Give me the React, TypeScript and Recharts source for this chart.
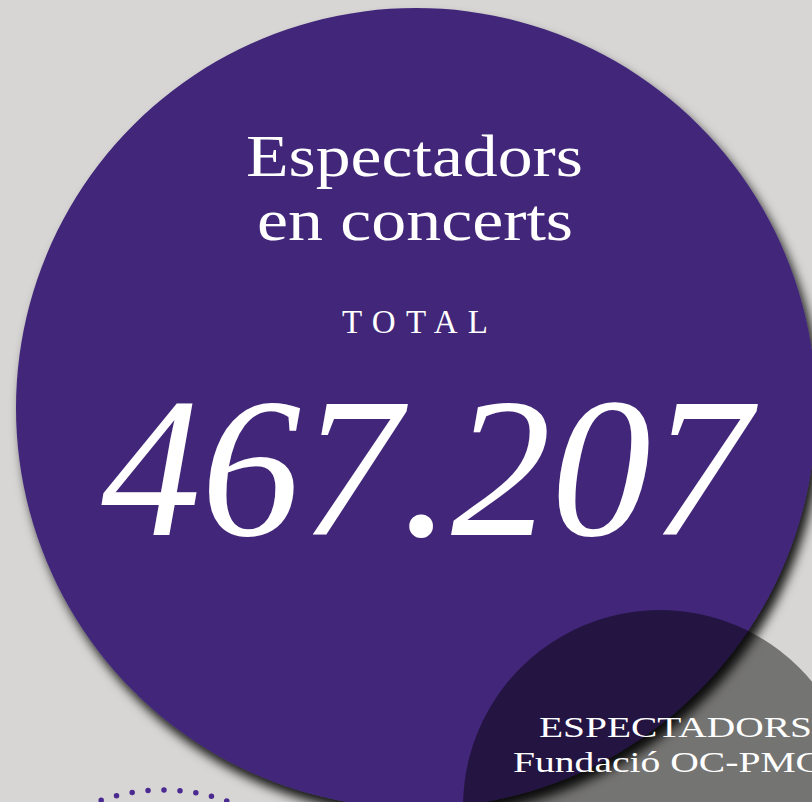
import React from 'react';
import { PieChart, Pie } from 'recharts';

// ---- data ----
const circleNames = ['Espectadors en concerts', 'ESPECTADORS Fundació OC-PMC', 'decor'];
const totalSpectators = [467207];
const foundationShare = [1];
const decorShare = [1];
const titleLines = ['Espectadors', 'en concerts'];
const totalLabel = ['TOTAL'];
const foundationLines = ['ESPECTADORS', 'Fundació OC-PMC'];

const mainData = [{ name: circleNames[0], value: totalSpectators[0] }];
const foundationData = [{ name: circleNames[1], value: foundationShare[0] }];
const decorData = [{ name: circleNames[2], value: decorShare[0] }];

const formatNumber = (v: number) => String(v).replace(/\B(?=(\d{3})+(?!\d))/g, '.');

const SERIF = '"Liberation Serif", "DejaVu Serif", serif';
const PURPLE = '#42287a';
const BG = '#d7d6d4';

const renderMainLabel = (props: any) => {
  const { cx, cy } = props;
  return (
    <g>
      <text x={cx - 170} y={cy - 232} textAnchor="start" fill="#fff" fontFamily={SERIF} fontSize={60} textLength={337} lengthAdjust="spacingAndGlyphs">
        {titleLines[0]}
      </text>
      <text x={cx - 159} y={cy - 168} textAnchor="start" fill="#fff" fontFamily={SERIF} fontSize={60} textLength={316} lengthAdjust="spacingAndGlyphs">
        {titleLines[1]}
      </text>
      <text x={cx - 74} y={cy - 75} textAnchor="start" fill="#fff" fontFamily={SERIF} fontSize={33} textLength={146} lengthAdjust="spacing">
        {totalLabel[0]}
      </text>
      <text x={cx + 10} y={cy + 127} textAnchor="middle" fill="#fff" fontFamily={SERIF} fontStyle="italic" fontSize={200}>
        {formatNumber(mainData[0].value)}
      </text>
    </g>
  );
};

const renderFoundationLabel = (props: any) => {
  const { cx, cy } = props;
  return (
    <g>
      <text x={cx - 121} y={cy - 70} textAnchor="start" fill="#fff" fontFamily={SERIF} fontSize={30} textLength={273} lengthAdjust="spacingAndGlyphs">
        {foundationLines[0]}
      </text>
      <text x={cx - 147} y={cy - 35} textAnchor="start" fill="#fff" fontFamily={SERIF} fontSize={30} textLength={309} lengthAdjust="spacingAndGlyphs">
        {foundationLines[1]}
      </text>
    </g>
  );
};

const renderDecorLabel = (props: any) => {
  const { cx, cy, outerRadius } = props;
  return (
    <circle
      cx={cx}
      cy={cy}
      r={outerRadius}
      fill="none"
      stroke="#4a2a90"
      strokeWidth={5.5}
      strokeLinecap="round"
      strokeDasharray="0 16"
    />
  );
};

export default function App() {
  return (
    <div style={{ position: 'absolute', left: 0, top: 0, width: 812, height: 802, background: BG, overflow: 'hidden' }}>
      <svg width={0} height={0} style={{ position: 'absolute' }}>
        <defs>
          <filter id="purpleShadow" x="-10%" y="-10%" width="130%" height="130%">
            <feDropShadow dx="5" dy="9" stdDeviation="5.5" floodColor="#000" floodOpacity="0.9" />
          </filter>
        </defs>
      </svg>
      <style>{`.main-pie .recharts-pie-sector { filter: url(#purpleShadow); }`}</style>
      <PieChart width={812} height={802} margin={{ top: 0, right: 0, bottom: 0, left: 0 }}>
        <Pie
          data={decorData}
          dataKey="value"
          nameKey="name"
          cx={163}
          cy={980}
          outerRadius={190}
          fill="none"
          stroke="none"
          isAnimationActive={false}
          label={renderDecorLabel}
          labelLine={false}
        />
        <Pie
          data={mainData}
          dataKey="value"
          nameKey="name"
          cx={416}
          cy={408}
          outerRadius={400}
          fill={PURPLE}
          stroke="none"
          className="main-pie"
          isAnimationActive={false}
          label={renderMainLabel}
          labelLine={false}
        />
        <Pie
          data={foundationData}
          dataKey="value"
          nameKey="name"
          cx={660}
          cy={807}
          outerRadius={197}
          fill="#000"
          fillOpacity={0.46}
          stroke="none"
          isAnimationActive={false}
          label={renderFoundationLabel}
          labelLine={false}
        />
      </PieChart>
    </div>
  );
}
